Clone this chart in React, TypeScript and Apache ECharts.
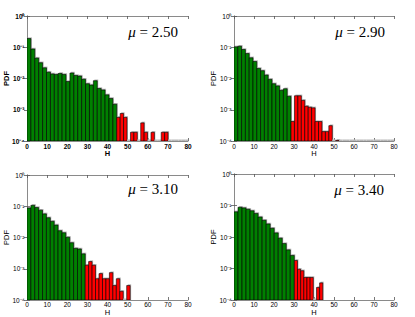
import React, { useEffect, useRef } from 'react';
import * as echarts from 'echarts';

// ---- data (PDF values per histogram bin) ----
const muValues = ['2.50', '2.90', '3.10', '3.40'];
const xTickValues = [0, 10, 20, 30, 40, 50, 60, 70, 80];

const greenStarts = [0, 0, 0, 0];
const greenWidths = [1.94, 1.9, 1.93, 2.01];
const redStarts = [44.6, 28.5, 28.9, 30.17];
const redWidths = [1.7, 1.72, 1.72, 1.58];

const greenMu250 = [0.19, 0.088, 0.045, 0.032, 0.022, 0.016, 0.014, 0.0135, 0.0145, 0.0135, 0.008, 0.015, 0.0125, 0.012, 0.0095, 0.0068, 0.0062, 0.0085, 0.0048, 0.0043, 0.003, 0.0023, 0.0015];
const redMu250 = [0.00057, 0.00076, 0.00057, 0, 0.00019, 0.00019, 0, 0.00038, 0.00019, 0, 0.00019, 0, 0, 0.00019, 0.00019, 0, 0, 0, 0, 0, 0];

const greenMu290 = [0.103, 0.108, 0.085, 0.063, 0.046, 0.035, 0.021, 0.0178, 0.0129, 0.0094, 0.0068, 0.0058, 0.0042, 0.0047, 0.0027];
const redMu290 = [0.00042, 0.0028, 0.0028, 0.002, 0.0013, 0.0012, 0.00115, 0.00042, 0.00042, 0.0002, 0.0002, 0.00031, 0, 0.000105, 0, 0, 0, 0, 0, 0, 0, 0, 0, 0, 0, 0, 0, 0, 0, 0];

const greenMu310 = [0.088, 0.107, 0.091, 0.075, 0.057, 0.043, 0.033, 0.025, 0.0165, 0.0142, 0.0102, 0.0068, 0.0045, 0.0043, 0.003];
const redMu310 = [0.0013, 0.0017, 0.0013, 0.00048, 0.0007, 0.00048, 0.00048, 0.00075, 0.00029, 0.00048, 0.00019, 0, 0.00029];

const greenMu340 = [0.063, 0.088, 0.084, 0.076, 0.068, 0.056, 0.043, 0.034, 0.026, 0.019, 0.0135, 0.0092, 0.0062, 0.0039, 0.0026];
const redMu340 = [0.0018, 0.00095, 0.00085, 0.00052, 0.00052, 0.00052, 0, 0.00025, 0.00035];

const greenSets = [greenMu250, greenMu290, greenMu310, greenMu340];
const redSets = [redMu250, redMu290, redMu310, redMu340];

const GREEN = '#008000';
const RED = '#ff0000';
const SHADOW = '#b8b8b8';
const FRAME = '#8a8a8a';
const YMIN = 1e-4;

const gridBoxes = [
  { left: 27, top: 16, width: 161, height: 125 },
  { left: 234, top: 16, width: 160, height: 125 },
  { left: 27, top: 175, width: 161, height: 125 },
  { left: 234, top: 174, width: 160, height: 126 },
];
const muPos = [
  [178, 32],
  [385, 32],
  [178, 189],
  [384, 190],
];
const xNameGaps = [9, 9, 8.7, 8.5];
const xLabelMargins = [1.5, 1.5, 1, 1];

const supMap: Record<string, string> = { '0': '⁰', '1': '¹', '2': '²', '3': '³', '4': '⁴', '-': '⁻' };
const sup = (s: string) => s.split('').map((c) => supMap[c] || c).join('');

function bins(values: number[], start: number, width: number) {
  return values.map((v, i) => [start + i * width, start + (i + 1) * width, v]);
}

function makeRender(fill: string) {
  return (params: any, api: any) => {
    const x0 = api.value(0);
    const x1 = api.value(1);
    const v = api.value(2);
    const b0 = api.coord([x0, YMIN]);
    const b1 = api.coord([x1, YMIN]);
    const w = b1[0] - b0[0];
    if (!(v > 0)) {
      return {
        type: 'rect',
        shape: { x: b0[0], y: b0[1] - 1.5, width: w, height: 1.5 },
        style: { fill: SHADOW },
      };
    }
    const t = api.coord([x0, v]);
    const h = b0[1] - t[1];
    return {
      type: 'group',
      children: [
        {
          type: 'rect',
          shape: { x: t[0] + 1, y: t[1] - 1.2, width: w, height: h + 1.2 },
          style: { fill: SHADOW },
        },
        {
          type: 'rect',
          shape: { x: t[0], y: t[1], width: w, height: h },
          style: { fill, stroke: '#000', lineWidth: 0.6 },
        },
      ],
    };
  };
}

export default function App() {
  const ref = useRef<HTMLDivElement>(null);
  useEffect(() => {
    if (!ref.current) return;
    const chart = echarts.init(ref.current, undefined, { renderer: 'svg' });
    const grids: any[] = [];
    const xAxes: any[] = [];
    const yAxes: any[] = [];
    const series: any[] = [];
    gridBoxes.forEach((g, i) => {
      const bold = i === 0 ? 'bold' : 'normal';
      grids.push({ ...g, containLabel: false, outerBoundsMode: 'none' });
      const axisLine = { show: true, lineStyle: { color: FRAME, width: 1 } };
      const axisTick = { show: true, inside: true, length: 3, lineStyle: { color: '#555', width: 0.8 } };
      xAxes.push({
        type: 'value', gridIndex: i, min: 0, max: 80, interval: 10, position: 'bottom',
        axisLine, axisTick, splitLine: { show: false },
        axisLabel: { show: true, fontSize: 6.5, lineHeight: 7, margin: xLabelMargins[i], color: '#000', fontFamily: 'Liberation Sans', fontWeight: bold,
          formatter: (v: number) => (xTickValues.includes(v) ? String(v) : '') },
        name: 'H', nameLocation: 'middle', nameGap: xNameGaps[i], nameMoveOverlap: false,
        nameTextStyle: { fontSize: 7.5, lineHeight: 7.5, color: '#000', fontFamily: 'Liberation Sans', fontWeight: bold },
      });
      xAxes.push({
        type: 'value', gridIndex: i, min: 0, max: 80, interval: 10, position: 'top',
        axisLine, axisTick, splitLine: { show: false }, axisLabel: { show: false },
      });
      yAxes.push({
        type: 'log', logBase: 10, gridIndex: i, min: YMIN, max: 1, splitNumber: 4, position: 'left',
        axisLine, axisTick, splitLine: { show: false }, minorTick: { show: false },
        axisLabel: { show: true, fontSize: 6.5, margin: 2.5, color: '#000', fontFamily: 'Liberation Sans', fontWeight: bold,
          formatter: (v: number) => '10' + sup(String(Math.round(Math.log10(v)))) },
        name: 'PDF', nameLocation: 'middle', nameGap: 17, nameMoveOverlap: false,
        nameTextStyle: { fontSize: 7.5, lineHeight: 7.5, color: '#000', fontFamily: 'Liberation Sans', fontWeight: bold },
      });
      yAxes.push({
        type: 'log', logBase: 10, gridIndex: i, min: YMIN, max: 1, splitNumber: 4, position: 'right',
        axisLine, axisTick, splitLine: { show: false }, axisLabel: { show: false },
      });
      series.push({
        type: 'custom', xAxisIndex: i * 2, yAxisIndex: i * 2,
        renderItem: makeRender(GREEN), encode: { x: [0, 1], y: 2 },
        data: bins(greenSets[i], greenStarts[i], greenWidths[i]), clip: true, silent: true,
      });
      series.push({
        type: 'custom', xAxisIndex: i * 2, yAxisIndex: i * 2,
        renderItem: makeRender(RED), encode: { x: [0, 1], y: 2 },
        data: bins(redSets[i], redStarts[i], redWidths[i]), clip: true, silent: true,
      });
    });
    chart.setOption({
      animation: false,
      backgroundColor: '#ffffff',
      grid: grids,
      xAxis: xAxes,
      yAxis: yAxes,
      series,
      graphic: muValues.map((m, i) => ({
        type: 'text',
        x: muPos[i][0],
        y: muPos[i][1],
        style: {
          text: '{i|μ} = ' + m,
          rich: { i: { fontStyle: 'italic', fontSize: 15, fontFamily: 'Liberation Serif' } },
          fontSize: 15,
          fontFamily: 'Liberation Serif',
          fill: '#000',
          textAlign: 'right',
          textVerticalAlign: 'middle',
        },
      })),
    });
    return () => chart.dispose();
  }, []);
  return <div ref={ref} style={{ position: 'fixed', left: 0, top: 0, width: 415, height: 317 }} />;
}
